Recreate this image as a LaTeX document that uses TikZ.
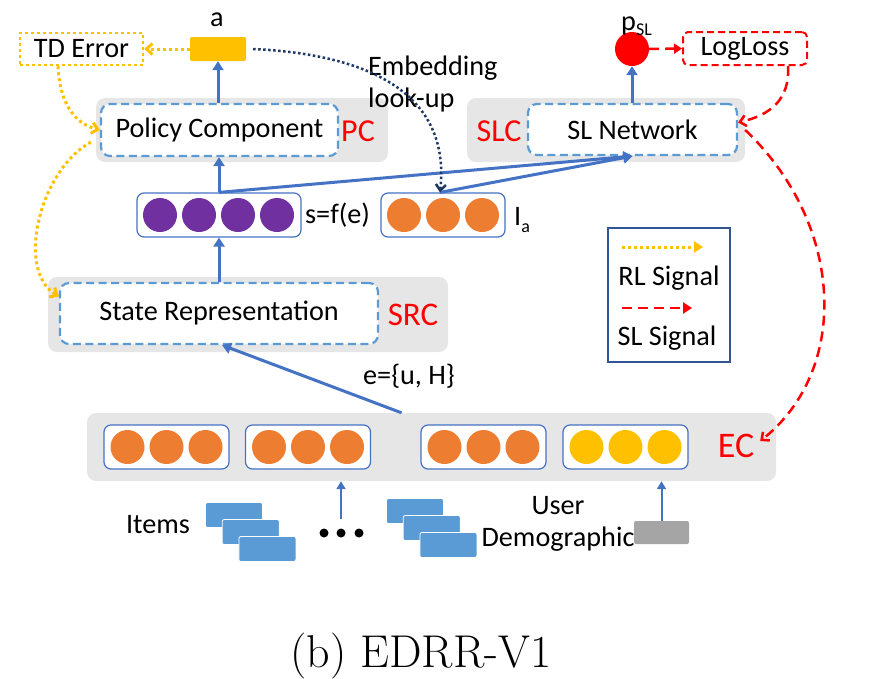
\documentclass[tikz,border=0pt]{standalone}
\usepackage{fontspec}
\newfontfamily\carlito{Carlito}
\usetikzlibrary{arrows.meta}

\definecolor{panelgray}{HTML}{E7E6E6}
\definecolor{boxblue}{HTML}{5B9BD5}
\definecolor{arrowblue}{HTML}{4472C4}
\definecolor{actyellow}{HTML}{FFC000}
\definecolor{vecorange}{HTML}{ED7D31}
\definecolor{vecpurple}{HTML}{7030A0}
\definecolor{lookupnavy}{HTML}{203864}
\definecolor{legendnavy}{HTML}{2F5597}
\definecolor{demogray}{HTML}{A5A5A5}

\tikzset{
  every node/.style={font=\carlito\fontsize{28.2}{32}\selectfont, inner sep=0pt},
  panel/.style={fill=panelgray, rounded corners=9pt},
  module/.style={draw=boxblue, fill=white, line width=2.2pt, dash pattern=on 8pt off 4.5pt, rounded corners=9pt},
  vecbox/.style={draw=arrowblue, fill=white, line width=1.2pt, rounded corners=7pt, minimum height=44pt},
  unit/.style={circle, minimum size=34pt},
  compname/.style={text=red, font=\carlito\fontsize{32}{36}\selectfont},
  itemcard/.style={fill=boxblue, draw=white, line width=0.8pt, rounded corners=2pt, minimum width=57pt, minimum height=25pt},
  flow/.style={arrowblue, line width=3pt, -{Triangle[length=9pt,width=11pt]}},
  rlsig/.style={actyellow, line width=3pt, dash pattern=on 3pt off 3pt},
  slsig/.style={red, line width=2.5pt, dash pattern=on 10pt off 6pt},
  lookup/.style={lookupnavy, line width=2.5pt, dash pattern=on 2.5pt off 2.5pt},
}

\begin{document}
\begin{tikzpicture}[x=1pt, y=-1pt]
  \useasboundingbox (0,0) rectangle (883,678);

  % component panels
  \node[panel, minimum width=292pt, minimum height=64pt] (pcbg) at (242,130) {};
  \node[panel, minimum width=278pt, minimum height=64pt] (slcbg) at (606,130) {};
  \node[panel, minimum width=400pt, minimum height=75pt] (srcbg) at (248,314.5) {};
  \node[panel, minimum width=689pt, minimum height=68pt] (ecbg) at (431.5,447) {};

  \node[module, minimum width=237pt, minimum height=52pt] (pc) at (219.5,130) {Policy Component};
  \node[module, minimum width=209pt, minimum height=51pt] (slc) at (632.5,129.5) {SL Network};
  \node[module, minimum width=318pt, minimum height=61pt] (sr) at (219,313.5) {State Representation};

  \node[compname] (pcname) at (358,131) {PC};
  \node[compname] (slcname) at (499,131) {SLC};
  \node[compname, font=\carlito\fontsize{33}{36}\selectfont] (srcname) at (413,315) {SRC};
  \node[compname, font=\carlito\fontsize{36}{40}\selectfont] (ecname) at (736,446) {EC};

  % outputs
  \node[fill=actyellow, rounded corners=2pt, minimum width=56pt, minimum height=24pt] (abox) at (218,49) {};
  \node (alabel) at (217,20) {a};
  \node[draw=actyellow, line width=2.5pt, dash pattern=on 3pt off 3pt,
        minimum width=123pt, minimum height=32pt] (td) at (81.5,49) {TD Error};
  \node[unit, fill=red] (psl) at (632,49) {};
  \node[anchor=base west] (pslabel) at (621,30) {p\raisebox{-5pt}{\fontsize{18}{20}\selectfont SL}};
  \node[draw=red, line width=2pt, dash pattern=on 7pt off 4pt, rounded corners=5pt,
        minimum width=124pt, minimum height=33pt] (logloss) at (745,48.5) {LogLoss};

  % state and item vectors
  \node[vecbox, minimum width=164pt] (svec) at (219,215) {};
  \foreach \k in {0,1,2,3}
    \node[unit, fill=vecpurple] (s\k) at (160+39*\k,215) {};
  \node[anchor=west] (sfe) at (305,215) {s=f(e)};
  \node[vecbox, minimum width=124pt] (ia) at (443,215) {};
  \foreach \k in {-1,0,1}
    \node[unit, fill=vecorange] at (443+39*\k,215) {};
  \node[anchor=base west] (ialabel) at (514,225) {I\raisebox{-7pt}{\fontsize{18}{20}\selectfont a}};
  \node[anchor=west, align=left] (embed) at (368,84) {Embedding\\look-up};
  \node (elabel) at (409,376) {e=\{u, H\}};

  % embedding component
  \foreach \name/\cx/\col in {ec1/166.5/vecorange, ec2/308/vecorange, ec3/483.5/vecorange, ec4/625.5/actyellow} {
    \node[vecbox, minimum width=125pt] (\name) at (\cx,447) {};
    \foreach \k in {-1,0,1}
      \node[unit, fill=\col] at (\cx+39*\k,447) {};
  }

  % inputs
  \node (itemslabel) at (158,525) {Items};
  \foreach \k in {0,1,2} {
    \node[itemcard] at (234+16.7*\k,515+17*\k) {};
    \node[itemcard] at (415+16.7*\k,511+17*\k) {};
  }
  \foreach \dx in {324,341,359}
    \fill (\dx,533) circle (4.5pt);
  \node[align=center] (userlabel) at (558,524) {User\\Demographic};
  \node[fill=demogray, rounded corners=2pt, minimum width=55pt, minimum height=23pt] (demo) at (661.5,532.5) {};
  \coordinate (itemsup) at (341,519);

  % legend
  \node[draw=legendnavy, line width=2pt, minimum width=122pt, minimum height=134pt] (legend) at (669,295) {};
  \coordinate (rlfrom) at (622,247);
  \coordinate (rlto) at (703,247);
  \coordinate (slfrom) at (622,308);
  \coordinate (slto) at (692,308);
  \node (rllabel) at (669,278) {RL Signal};
  \node (sllabel) at (667,338) {SL Signal};

  % blue flows
  \draw[flow, line width=2pt, -{Triangle[length=8pt,width=9pt]}] (itemsup) -- (itemsup |- ecbg.south);
  \draw[flow, line width=2pt, -{Triangle[length=8pt,width=9pt]}] (demo.north) -- (demo.north |- ecbg.south);
  \draw[flow] ([xshift=-30pt]ecbg.north) -- ([xshift=3pt]sr.south);
  \draw[flow] (sr.north) -- (svec.south);
  \draw[flow] (svec.north) -- (pc.south -| svec.north);
  \draw[flow] (svec.north) -- (slc.south);
  \draw[flow] ([xshift=-3pt]ia.north) -- (slc.south);
  \draw[flow] (abox.south |- pc.north) -- (abox.south);
  \draw[flow] (psl.south |- slc.north) -- (psl.south);

  % RL signals
  \draw[rlsig, -{Straight Barb[length=6pt,width=11pt]}] (abox.west) -- (td.east);
  \draw[rlsig, -{Straight Barb[length=6pt,width=11pt]}] ([xshift=-23.5pt]td.south)
    .. controls (60,110) and (80,125) .. (pc.west);
  \draw[rlsig, -{Straight Barb[length=6pt,width=11pt]}] ([shift={(-9pt,-12pt)}]pc.west)
    .. controls (40,170) and (15,270) .. ([yshift=17pt]sr.west);
  \draw[rlsig, -{Triangle[length=9pt,width=11pt]}] (rlfrom) -- (rlto);

  % embedding look-up
  \draw[lookup, -{Straight Barb[length=6pt,width=10pt]}] ([xshift=7pt]abox.east)
    .. controls (380,55) and (450,100) .. ([xshift=-3pt]ia.north);

  % SL signals
  \draw[slsig, -{Triangle[length=8pt,width=10pt]}] (psl.east) -- (logloss.west);
  \draw[slsig, -{Straight Barb[length=6pt,width=11pt]}] ([xshift=43pt]logloss.south)
    .. controls (790,100) and (770,115) .. ([yshift=7pt]slc.east);
  \draw[slsig, -{Straight Barb[length=6pt,width=11pt]}] (slcbg.east)
    .. controls (845,225) and (850,370) .. ([shift={(-16pt,6pt)}]ecbg.east);
  \draw[slsig, -{Triangle[length=9pt,width=11pt]}] (slfrom) -- (slto);

  \node[font=\rmfamily\fontsize{46}{50}\selectfont, anchor=base] (caption) at (421,667) {(b) EDRR-V1};
\end{tikzpicture}
\end{document}
